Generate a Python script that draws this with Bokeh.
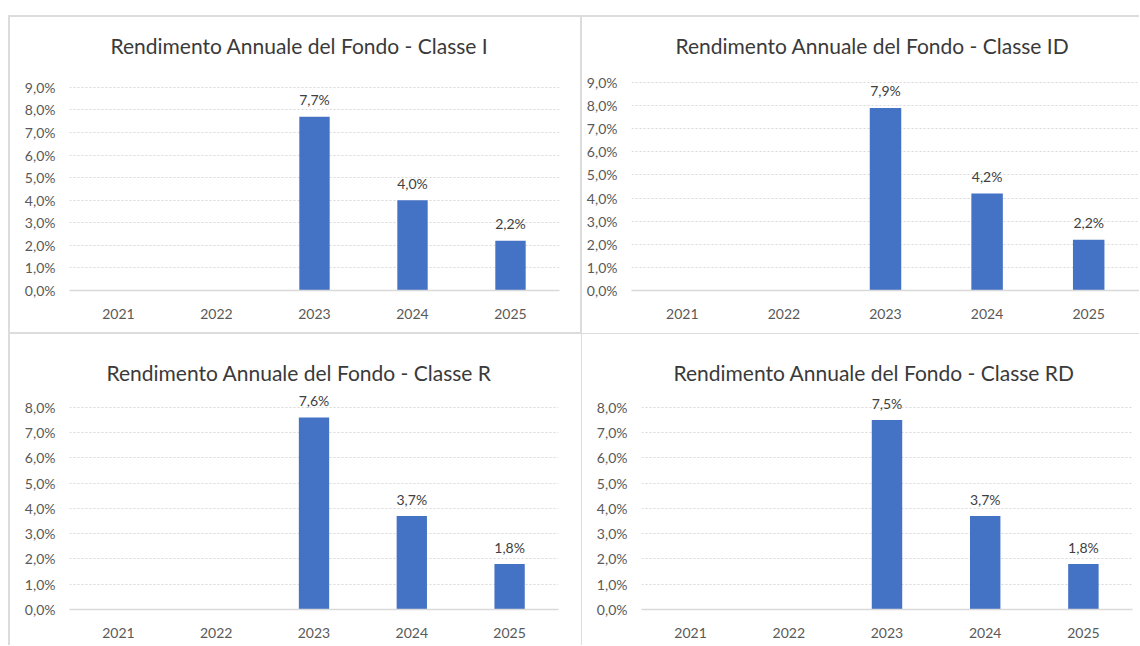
from bokeh.plotting import figure
from bokeh.models import ColumnDataSource, FactorRange, Range1d, FixedTicker, Spacer, LabelSet
from bokeh.layouts import column, row
from bokeh.core.properties import value
from bokeh.embed import file_html
from bokeh.resources import INLINE

# ---- data ----
years = ["2021", "2022", "2023", "2024", "2025"]
classe_i = [None, None, 7.7, 4.0, 2.2]
classe_id = [None, None, 7.9, 4.2, 2.2]
classe_r = [None, None, 7.6, 3.7, 1.8]
classe_rd = [None, None, 7.5, 3.7, 1.8]

ticks_9 = [0, 1, 2, 3, 4, 5, 6, 7, 8, 9]
labels_9 = ["0,0%", "1,0%", "2,0%", "3,0%", "4,0%", "5,0%", "6,0%", "7,0%", "8,0%", "9,0%"]
ticks_8 = [0, 1, 2, 3, 4, 5, 6, 7, 8]
labels_8 = ["0,0%", "1,0%", "2,0%", "3,0%", "4,0%", "5,0%", "6,0%", "7,0%", "8,0%"]

titles = [
    "Rendimento Annuale del Fondo - Classe I",
    "Rendimento Annuale del Fondo - Classe ID",
    "Rendimento Annuale del Fondo - Classe R",
    "Rendimento Annuale del Fondo - Classe RD",
]

FONT = "Lato"
BAR = "#4472C4"
GRID = "#d9d9d9"


def fmt(v):
    return ("%.1f" % v).replace(".", ",") + "%"


def make_panel(title, vals, y_end, ticks, labels, width, height,
               mbl, mbr, mbt, mbb, standoff, title_offset, shadow):
    p = figure(
        x_range=FactorRange(*years, range_padding=0),
        y_range=Range1d(0, y_end),
        width=width, height=height,
        output_backend="svg", toolbar_location=None,
        min_border_left=mbl, min_border_right=mbr,
        min_border_top=mbt, min_border_bottom=mbb,
    )
    p.border_fill_color = None
    p.outline_line_color = None
    p.styles = {"box-shadow": shadow}

    p.title.text = title
    p.title.align = "left"
    p.title.offset = title_offset
    p.title.text_font = FONT
    p.title.text_font_size = "21px"
    p.title.text_font_style = "normal"
    p.title.text_color = "#3a3a3a"
    p.title.standoff = standoff

    xs = [y for y, v in zip(years, vals) if v is not None]
    tops = [v for v in vals if v is not None]
    src = ColumnDataSource(dict(x=xs, top=tops, label=[fmt(v) for v in tops]))

    p.vbar(x="x", top="top", width=0.31, fill_color=BAR, line_color=None, source=src)
    p.add_layout(LabelSet(x="x", y="top", text="label", source=src, y_offset=17,
                          text_align="center", text_baseline="middle",
                          text_font=value(FONT), text_font_size=value("14px"),
                          text_color="#404040"))

    p.yaxis.ticker = FixedTicker(ticks=ticks)
    p.yaxis.major_label_overrides = {t: l for t, l in zip(ticks, labels)}
    p.yaxis.axis_line_color = None
    p.yaxis.major_tick_line_color = None
    p.yaxis.minor_tick_line_color = None
    p.yaxis.major_tick_out = 0
    p.yaxis.major_tick_in = 0
    p.yaxis.major_label_standoff = 14
    p.yaxis.major_label_text_font = FONT
    p.yaxis.major_label_text_font_size = "14px"
    p.yaxis.major_label_text_color = "#595959"

    p.xaxis.axis_line_color = GRID
    p.xaxis.axis_line_width = 1.5
    p.xaxis.major_tick_line_color = None
    p.xaxis.major_tick_out = 0
    p.xaxis.major_tick_in = 0
    p.xaxis.major_label_standoff = 18
    p.xaxis.major_label_text_font = FONT
    p.xaxis.major_label_text_font_size = "14px"
    p.xaxis.major_label_text_color = "#595959"

    p.xgrid.grid_line_color = None
    p.ygrid.grid_line_color = GRID
    p.ygrid.grid_line_dash = "2 2"
    p.ygrid.grid_line_width = 1
    return p


tl = make_panel(titles[0], classe_i, 9.75, ticks_9, labels_9, 573, 318,
                61, 22, 55, 43, 26, 41, "inset 2px 2px 0 0 #dcdcdc, inset -1px -1px 0 0 #dcdcdc")
tr = make_panel(titles[1], classe_id, 9.52, ticks_9, labels_9, 558, 318,
                50, 0, 55, 43, 26, 44, "inset 1px 2px 0 0 #dcdcdc")
bl = make_panel(titles[2], classe_r, 8.67, ticks_8, labels_8, 573, 312,
                61, 23, 57, 36, 12, 37, "inset 2px 1px 0 0 #dcdcdc")
br = make_panel(titles[3], classe_rd, 8.67, ticks_8, labels_8, 558, 312,
                60, 7, 57, 36, 12, 32, "inset 1px 1px 0 0 #dcdcdc")

layout = column(
    Spacer(height=15, width=1139),
    row(Spacer(width=8, height=318), column(tl), column(tr)),
    row(Spacer(width=8, height=312), column(bl), column(br)),
)

open("out.html", "w").write(file_html(layout, INLINE))
